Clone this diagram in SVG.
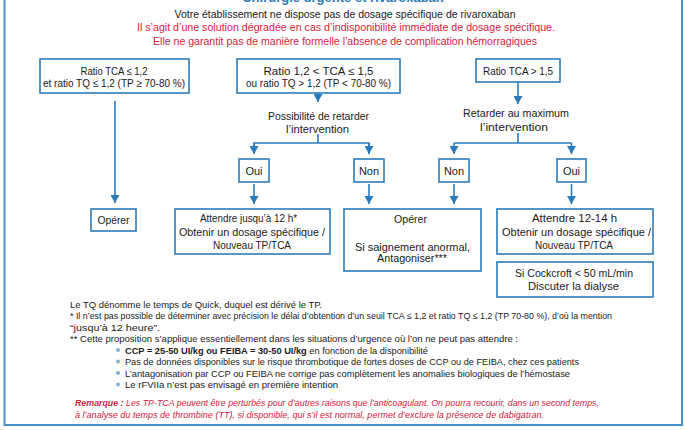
<svg xmlns="http://www.w3.org/2000/svg" width="686" height="430" viewBox="0 0 686 430">
<style>
text{font-family:"Liberation Sans",Arial,sans-serif;fill:#1a1a1a}
.t{font-size:11px;text-anchor:middle}
.h{font-size:11.5px;text-anchor:middle}
.red{fill:#d4213d}
.ttl{font-size:13px;font-weight:bold;fill:#2b7bba;text-anchor:middle}
.f{font-size:9.5px}
.rm{font-size:9.5px;font-style:italic;fill:#d4213d}
.box{fill:#fff;stroke:#2b7bba;stroke-width:1.6}
.ln{fill:none;stroke:#2b7bba;stroke-width:1.6}
.bul{fill:#7fb2dc}
</style>
<defs>
<marker id="ah" markerUnits="userSpaceOnUse" markerWidth="9" markerHeight="9" refX="8" refY="4.5" orient="auto">
<path d="M0,0 L8,4.5 L0,9 z" fill="#2b7bba"/>
</marker>
</defs>
<rect width="686" height="430" fill="#fff"/>
<rect x="4.5" y="-20" width="677.5" height="445" fill="none" stroke="#4a90c8" stroke-width="2"/>

<g id="header">
<text class="ttl" x="343" y="2">Chirurgie urgente et rivaroxaban</text>
<text class="h" x="345" y="18" textLength="341" lengthAdjust="spacingAndGlyphs">Votre établissement ne dispose pas de dosage spécifique de rivaroxaban</text>
<text class="h red" x="346" y="31" textLength="418" lengthAdjust="spacingAndGlyphs">Il s’agit d’une solution dégradée en cas d’indisponibilité immédiate de dosage spécifique.</text>
<text class="h red" x="345" y="45" textLength="384" lengthAdjust="spacingAndGlyphs">Elle ne garantit pas de manière formelle l’absence de complication hémorragiques</text>
</g>

<g id="connectors">
<line class="ln" x1="115" y1="101" x2="115" y2="203" marker-end="url(#ah)"/>
<line class="ln" x1="318" y1="93" x2="318" y2="102" marker-end="url(#ah)"/>
<polyline class="ln" points="318,134 318,143"/>
<polyline class="ln" points="254,153 254,143 369,143 369,153" marker-start="none"/>
<line class="ln" x1="254" y1="143" x2="254" y2="154" marker-end="url(#ah)"/>
<line class="ln" x1="369" y1="143" x2="369" y2="154" marker-end="url(#ah)"/>
<line class="ln" x1="518" y1="82" x2="518" y2="104" marker-end="url(#ah)"/>
<polyline class="ln" points="518,133 518,143"/>
<polyline class="ln" points="454,143 571.5,143"/>
<line class="ln" x1="454" y1="143" x2="454" y2="154" marker-end="url(#ah)"/>
<line class="ln" x1="571.5" y1="143" x2="571.5" y2="154" marker-end="url(#ah)"/>
<line class="ln" x1="254" y1="184" x2="254" y2="204" marker-end="url(#ah)"/>
<line class="ln" x1="369" y1="184" x2="369" y2="204" marker-end="url(#ah)"/>
<line class="ln" x1="454" y1="184" x2="454" y2="204" marker-end="url(#ah)"/>
<line class="ln" x1="571.5" y1="184" x2="571.5" y2="204" marker-end="url(#ah)"/>
</g>

<g id="boxA">
<rect class="box" x="40" y="59" width="149" height="34"/>
<text class="t" x="114" y="74.5" textLength="67" lengthAdjust="spacingAndGlyphs">Ratio TCA ≤ 1,2</text>
<text class="t" x="114" y="87" textLength="142" lengthAdjust="spacingAndGlyphs">et ratio TQ ≤ 1,2 (TP ≥ 70-80 %)</text>
</g>
<g id="boxB">
<rect class="box" x="237" y="59" width="163" height="34"/>
<text class="t" x="318.5" y="74.5" textLength="110" lengthAdjust="spacingAndGlyphs">Ratio 1,2 &lt; TCA ≤ 1,5</text>
<text class="t" x="318.5" y="87" textLength="145" lengthAdjust="spacingAndGlyphs">ou ratio TQ &gt; 1,2 (TP &lt; 70-80 %)</text>
</g>
<g id="boxC">
<rect class="box" x="476" y="59" width="84" height="23"/>
<text class="t" x="518" y="74.5" textLength="70" lengthAdjust="spacingAndGlyphs">Ratio TCA &gt; 1,5</text>
</g>
<g id="decisionB">
<text class="t" x="318.5" y="120" textLength="101" lengthAdjust="spacingAndGlyphs">Possibilité de retarder</text>
<text class="t" x="317.5" y="133" textLength="63" lengthAdjust="spacingAndGlyphs">l’intervention</text>
</g>
<g id="decisionC">
<text class="t" x="516" y="117" textLength="106" lengthAdjust="spacingAndGlyphs">Retarder au maximum</text>
<text class="t" x="514" y="131" textLength="68" lengthAdjust="spacingAndGlyphs">l’intervention</text>
</g>
<g id="ouiB">
<rect class="box" x="239" y="159" width="30" height="23"/>
<text class="t" x="254" y="174.5">Oui</text>
</g>
<g id="nonB">
<rect class="box" x="354" y="159" width="30" height="23"/>
<text class="t" x="369" y="174.5">Non</text>
</g>
<g id="nonC">
<rect class="box" x="439" y="159" width="30" height="23"/>
<text class="t" x="454" y="174.5">Non</text>
</g>
<g id="ouiC">
<rect class="box" x="557" y="159" width="29" height="23"/>
<text class="t" x="571.5" y="174.5">Oui</text>
</g>
<g id="operer1">
<rect class="box" x="91" y="209" width="45" height="22"/>
<text class="t" x="113.5" y="224" textLength="32" lengthAdjust="spacingAndGlyphs">Opérer</text>
</g>
<g id="attendre12">
<rect class="box" x="175" y="209" width="155" height="45"/>
<text class="t" x="248.5" y="222" textLength="97" lengthAdjust="spacingAndGlyphs">Attendre jusqu’à 12 h*</text>
<text class="t" x="252" y="235.5" textLength="146" lengthAdjust="spacingAndGlyphs">Obtenir un dosage spécifique /</text>
<text class="t" x="252" y="249" textLength="78" lengthAdjust="spacingAndGlyphs">Nouveau TP/TCA</text>
</g>
<g id="operer2">
<rect class="box" x="344" y="209" width="137" height="62"/>
<text class="t" x="410.5" y="223" textLength="33" lengthAdjust="spacingAndGlyphs">Opérer</text>
<text class="t" x="412.5" y="251" textLength="115" lengthAdjust="spacingAndGlyphs">Si saignement anormal,</text>
<text class="t" x="412" y="262" textLength="70" lengthAdjust="spacingAndGlyphs">Antagoniser***</text>
</g>
<g id="attendre1214">
<rect class="box" x="497" y="209" width="156" height="45"/>
<text class="t" x="574.5" y="222" textLength="85" lengthAdjust="spacingAndGlyphs">Attendre 12-14 h</text>
<text class="t" x="576.5" y="235.5" textLength="149" lengthAdjust="spacingAndGlyphs">Obtenir un dosage spécifique /</text>
<text class="t" x="574" y="249" textLength="78" lengthAdjust="spacingAndGlyphs">Nouveau TP/TCA</text>
</g>
<g id="cockcroft">
<rect class="box" x="497" y="262" width="156" height="35"/>
<text class="t" x="574" y="277" textLength="118" lengthAdjust="spacingAndGlyphs">Si Cockcroft &lt; 50 mL/min</text>
<text class="t" x="573.5" y="290" textLength="91" lengthAdjust="spacingAndGlyphs">Discuter la dialyse</text>
</g>

<g id="notes">
<text class="f" x="70" y="307.5" textLength="252" lengthAdjust="spacingAndGlyphs">Le TQ dénomme le temps de Quick, duquel est dérivé le TP.</text>
<text class="f" x="70" y="319" textLength="542" lengthAdjust="spacingAndGlyphs">* Il n’est pas possible de déterminer avec précision le délai d’obtention d’un seuil TCA ≤ 1,2 et ratio TQ ≤ 1,2 (TP 70-80 %), d’où la mention</text>
<text class="f" x="70" y="330.5" textLength="90" lengthAdjust="spacingAndGlyphs">“jusqu’à 12 heure”.</text>
<text class="f" x="70" y="342" textLength="448" lengthAdjust="spacingAndGlyphs">** Cette proposition s’applique essentiellement dans les situations d’urgence où l’on ne peut pas attendre :</text>
<circle class="bul" cx="118" cy="350" r="2"/>
<text class="f" x="125" y="353.5" textLength="303" lengthAdjust="spacingAndGlyphs"><tspan font-weight="bold">CCP = 25-50 UI/kg ou FEIBA = 30-50 UI/kg</tspan> en fonction de la disponibilité</text>
<circle class="bul" cx="118" cy="361.5" r="2"/>
<text class="f" x="125" y="365" textLength="454" lengthAdjust="spacingAndGlyphs">Pas de données disponibles sur le risque thrombotique de fortes doses de CCP ou de FEIBA, chez ces patients</text>
<circle class="bul" cx="118" cy="373" r="2"/>
<text class="f" x="125" y="376.5" textLength="445" lengthAdjust="spacingAndGlyphs">L’antagonisation par CCP ou FEIBA ne corrige pas complètement les anomalies biologiques de l’hémostase</text>
<circle class="bul" cx="118" cy="384.5" r="2"/>
<text class="f" x="125" y="388" textLength="213" lengthAdjust="spacingAndGlyphs">Le rFVIIa n’est pas envisagé en première intention</text>
<text class="rm" x="75" y="405.5" textLength="524" lengthAdjust="spacingAndGlyphs"><tspan font-weight="bold">Remarque :</tspan> Les TP-TCA peuvent être perturbés pour d’autres raisons que l’anticoagulant. On pourra recourir, dans un second temps,</text>
<text class="rm" x="75" y="417.5" textLength="469" lengthAdjust="spacingAndGlyphs">à l’analyse du temps de thrombine (TT), si disponible, qui s’il est normal, permet d’exclure la présence de dabigatran.</text>
</g>
</svg>
